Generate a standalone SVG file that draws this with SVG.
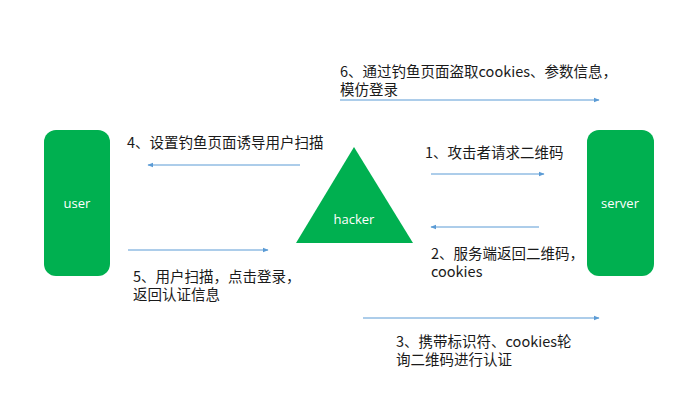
<svg xmlns="http://www.w3.org/2000/svg" width="693" height="405" viewBox="0 0 693 405">
<style>
.node{fill:#00B050}
.nl{fill:#fff;font-family:"Open Sans","Noto Sans","Noto Sans CJK SC",sans-serif;font-size:13px;text-anchor:middle}
.lb{fill:#1a1a1a;font-family:"Noto Sans CJK SC","Noto Sans",sans-serif;font-size:14.5px}
.ar{stroke:#5B9BD5;stroke-width:1;fill:none;marker-end:url(#ah)}
</style>
<defs>
<marker id="ah" viewBox="0 0 10 10" refX="9" refY="5" markerWidth="6" markerHeight="6" orient="auto" markerUnits="userSpaceOnUse">
<path d="M0,1 L10,5 L0,9 z" fill="#5B9BD5"/>
</marker>
</defs>
<rect width="693" height="405" fill="#fff"/>
<g id="user"><rect class="node" x="44" y="130" width="66" height="146" rx="12"/><text class="nl" x="77" y="208">user</text></g>
<g id="server"><rect class="node" x="587" y="130" width="67" height="146" rx="12"/><text class="nl" x="620" y="208">server</text></g>
<g id="hacker"><polygon class="node" points="354,147 413,243 296,243"/><text class="nl" x="354" y="224">hacker</text></g>
<g id="connectors">
<line class="ar" x1="340" y1="100" x2="599" y2="100"/>
<line class="ar" x1="300" y1="165" x2="148" y2="165"/>
<line class="ar" x1="431" y1="174" x2="544" y2="174"/>
<line class="ar" x1="539" y1="227" x2="431" y2="227"/>
<line class="ar" x1="128" y1="250" x2="268" y2="250"/>
<line class="ar" x1="363" y1="318" x2="599" y2="318"/>
</g>
<g id="labels">
<text class="lb" x="340" y="77">6、通过钓鱼页面盗取cookies、参数信息，</text>
<text class="lb" x="340" y="95">模仿登录</text>
<text class="lb" x="127" y="148">4、设置钓鱼页面诱导用户扫描</text>
<text class="lb" x="425" y="158">1、攻击者请求二维码</text>
<text class="lb" x="431" y="259">2、服务端返回二维码，</text>
<text class="lb" x="431" y="277">cookies</text>
<text class="lb" x="133" y="282">5、用户扫描，点击登录，</text>
<text class="lb" x="133" y="300">返回认证信息</text>
<text class="lb" x="396" y="347">3、携带标识符、cookies轮</text>
<text class="lb" x="396" y="365">询二维码进行认证</text>
</g>
</svg>
